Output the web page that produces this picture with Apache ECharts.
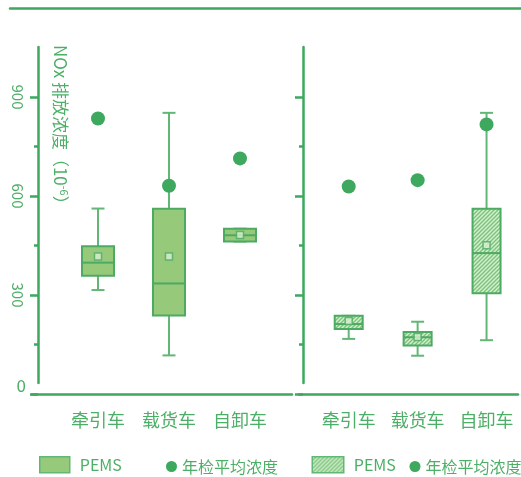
<!DOCTYPE html>
<html style="height: 100%">
<head>
    <meta charset="utf-8">
</head>
<body style="height: 100%; margin: 0">
<div id="container" style="width: 521px; height: 477px"></div>
<script src="https://cdn.jsdelivr.net/npm/echarts@6/dist/echarts.min.js"></script>
<script type="text/javascript">
    // data
    var categories = ['牵引车', '载货车', '自卸车'];
    // PEMS box: [min, Q1, median, Q3, max]
    var pemsLeft = [[315, 358, 398, 448, 562], [117, 238, 335, 561, 852], [462, 462, 481, 501, 501]];
    var meanLeft = [417, 417, 482];
    var annualLeft = [835, 631, 714];
    var pemsRight = [[167, 197, 212, 237, 237], [116, 147, 172, 188, 219], [163, 305, 427, 561, 852]];
    var meanRight = [221, 173, 451];
    var annualRight = [629, 648, 817];
    var yMin = 0, yMax = 900, yStep = 300;

    var GREEN = '#3DA85E';
    var TEXT = '#4DAF67';
    var BOX_FILL = '#97C97A';
    var BOX_LINE = '#4DAA63';
    var WHISKER = '#62B776';
    var FONT = "'Noto Sans CJK SC', 'Noto Sans', sans-serif";

    // hatch pattern for right panel
    var hatch = document.createElement('canvas');
    hatch.width = 4;
    hatch.height = 4;
    var hc = hatch.getContext('2d');
    hc.fillStyle = '#d3edcf';
    hc.fillRect(0, 0, 4, 4);
    hc.strokeStyle = '#78c477';
    hc.lineWidth = 1.3;
    hc.beginPath();
    hc.moveTo(-1, 5); hc.lineTo(5, -1);
    hc.moveTo(-1, 1); hc.lineTo(1, -1);
    hc.moveTo(3, 5); hc.lineTo(5, 3);
    hc.stroke();
    var hatchFill = {image: hatch, repeat: 'repeat'};

    function toRows(list) {
        return list.map(function (d, i) { return [i].concat(d); });
    }

    function boxRenderer(boxW, fill) {
        return function (params, api) {
            var i = api.value(0);
            var pMin = api.coord([i, api.value(1)]);
            var pQ1 = api.coord([i, api.value(2)]);
            var pMed = api.coord([i, api.value(3)]);
            var pQ3 = api.coord([i, api.value(4)]);
            var pMax = api.coord([i, api.value(5)]);
            var x = pMed[0], h = boxW / 2, c = 6.5;
            var wl = {stroke: WHISKER, lineWidth: 2};
            return {
                type: 'group',
                children: [
                    {type: 'line', shape: {x1: x, y1: pMax[1], x2: x, y2: pQ3[1]}, style: wl},
                    {type: 'line', shape: {x1: x, y1: pQ1[1], x2: x, y2: pMin[1]}, style: wl},
                    {type: 'line', shape: {x1: x - c, y1: pMax[1], x2: x + c, y2: pMax[1]}, style: wl},
                    {type: 'line', shape: {x1: x - c, y1: pMin[1], x2: x + c, y2: pMin[1]}, style: wl},
                    {type: 'rect', shape: {x: x - h, y: pQ3[1], width: boxW, height: pQ1[1] - pQ3[1]},
                        style: {fill: fill, stroke: BOX_LINE, lineWidth: 2}},
                    {type: 'line', shape: {x1: x - h, y1: pMed[1], x2: x + h, y2: pMed[1]},
                        style: {stroke: BOX_LINE, lineWidth: 2}}
                ]
            };
        };
    }

    var dom = document.getElementById('container');
    var myChart = echarts.init(dom, null, {renderer: 'canvas'});

    function lineAxis(grid, pos) {
        return {
            gridIndex: grid, type: 'value', position: pos,
            axisLine: {show: true, onZero: false, lineStyle: {color: GREEN, width: 2.5}},
            axisTick: {show: false}, axisLabel: {show: false}, splitLine: {show: false}
        };
    }
    function hiddenAxis(grid) {
        return {gridIndex: grid, type: 'value', show: false};
    }
    function scaleAxis(grid, offset, showLabel) {
        return {
            gridIndex: grid, type: 'value', min: yMin, max: yMax, interval: yStep, offset: offset,
            axisLine: {show: false},
            axisTick: {show: true, length: 8, lineStyle: {color: GREEN, width: 2.5}},
            minorTick: {show: true, splitNumber: 2, length: 4, lineStyle: {color: GREEN, width: 2.5}},
            splitLine: {show: false},
            minorSplitLine: {show: false},
            axisLabel: {
                show: showLabel, rotate: -90, color: TEXT, fontSize: 15, fontFamily: FONT, margin: 13,
                formatter: function (v) { return v === 0 ? '' : v; }
            }
        };
    }
    function catAxis(grid) {
        return {
            gridIndex: grid, type: 'category', data: categories,
            axisLine: {show: false}, axisTick: {show: false},
            axisLabel: {color: TEXT, fontSize: 18, fontFamily: FONT, margin: 17, interval: 0, hideOverlap: false}
        };
    }

    function legendItem(left, top, w, h, name, icon, style) {
        return {
            left: left, top: top, padding: 0, itemWidth: w, itemHeight: h,
            selectedMode: false,
            data: [{name: name, icon: icon, itemStyle: style}],
            formatter: function (n) { return n.trim(); },
            textStyle: {color: TEXT, fontSize: 16, fontFamily: FONT, padding: icon === 'rect' ? [0, 0, 0, 5] : 0}
        };
    }

    var option = {
        animation: false,
        textStyle: {fontFamily: FONT},
        grid: [
            {left: 62.5, top: 97, width: 213, height: 297},
            {left: 314.25, top: 97, width: 211.5, height: 297},
            {left: 32, top: 97, width: 260, height: 297},
            {left: 299, top: 97, width: 219, height: 297},
            {left: 38, top: 47, width: 10, height: 336},
            {left: 303, top: 47, width: 10, height: 336},
            {left: 10, top: 8, width: 511, height: 10}
        ],
        xAxis: [
            catAxis(0),
            catAxis(1),
            lineAxis(2, 'bottom'),
            lineAxis(3, 'bottom'),
            hiddenAxis(4),
            hiddenAxis(5),
            lineAxis(6, 'top')
        ],
        yAxis: [
            scaleAxis(0, 24.5, true),
            scaleAxis(1, 11.25, false),
            {
                gridIndex: 2, type: 'value', min: yMin, max: yMax, interval: yStep,
                axisLine: {show: false}, axisTick: {show: false}, splitLine: {show: false},
                axisLabel: {
                    color: TEXT, fontSize: 17, fontFamily: FONT, margin: 6, verticalAlign: 'bottom',
                    formatter: function (v) { return v === 0 ? '0' : ''; }
                }
            },
            hiddenAxis(3),
            lineAxis(4, 'left'),
            lineAxis(5, 'left'),
            hiddenAxis(6)
        ],
        legend: [
            legendItem(39, 456, 30, 16, 'PEMS', 'rect', {color: BOX_FILL, borderColor: WHISKER, borderWidth: 1.5}),
            legendItem(166, 458.5, 11, 11, '年检平均浓度', 'circle', {color: GREEN}),
            legendItem(311.5, 456, 31.5, 16, 'PEMS ', 'rect', {color: hatchFill, borderColor: WHISKER, borderWidth: 1.5}),
            legendItem(409.5, 458.5, 11, 11, '年检平均浓度 ', 'circle', {color: GREEN})
        ],
        graphic: [{
            type: 'text', x: 60, y: 45, rotation: -Math.PI / 2,
            style: {
                text: '{n|NOx 排放浓度（10}{sup|-6}{n|）}',
                fill: TEXT, fontSize: 17, fontFamily: FONT,
                align: 'left', verticalAlign: 'middle',
                rich: {
                    n: {fontSize: 17, fill: TEXT, fontFamily: FONT, lineHeight: 20},
                    sup: {fontSize: 11, fill: TEXT, fontFamily: FONT, verticalAlign: 'top', lineHeight: 20}
                }
            }
        }],
        series: [
            {
                name: 'PEMS', type: 'custom', xAxisIndex: 0, yAxisIndex: 0,
                renderItem: boxRenderer(32, BOX_FILL), itemStyle: {color: BOX_FILL},
                encode: {x: 0, y: [1, 2, 3, 4, 5]}, data: toRows(pemsLeft)
            },
            {
                name: 'mean-left', type: 'scatter', xAxisIndex: 0, yAxisIndex: 0,
                symbol: 'rect', symbolSize: 7,
                itemStyle: {color: '#d9efd3', borderColor: BOX_LINE, borderWidth: 1.5},
                data: meanLeft
            },
            {
                name: '年检平均浓度', type: 'scatter', xAxisIndex: 0, yAxisIndex: 0,
                symbolSize: 14, itemStyle: {color: GREEN, opacity: 1}, data: annualLeft
            },
            {
                name: 'PEMS ', type: 'custom', xAxisIndex: 1, yAxisIndex: 1,
                renderItem: boxRenderer(28, hatchFill), itemStyle: {color: BOX_FILL},
                encode: {x: 0, y: [1, 2, 3, 4, 5]}, data: toRows(pemsRight)
            },
            {
                name: 'mean-right', type: 'scatter', xAxisIndex: 1, yAxisIndex: 1,
                symbol: 'rect', symbolSize: 7,
                itemStyle: {color: '#d9efd3', borderColor: BOX_LINE, borderWidth: 1.5},
                data: meanRight
            },
            {
                name: '年检平均浓度 ', type: 'scatter', xAxisIndex: 1, yAxisIndex: 1,
                symbolSize: 14, itemStyle: {color: GREEN, opacity: 1}, data: annualRight
            }
        ]
    };

    myChart.setOption(option);
    window.addEventListener('resize', function () {
        myChart.resize();
    });
</script>
</body>
</html>
